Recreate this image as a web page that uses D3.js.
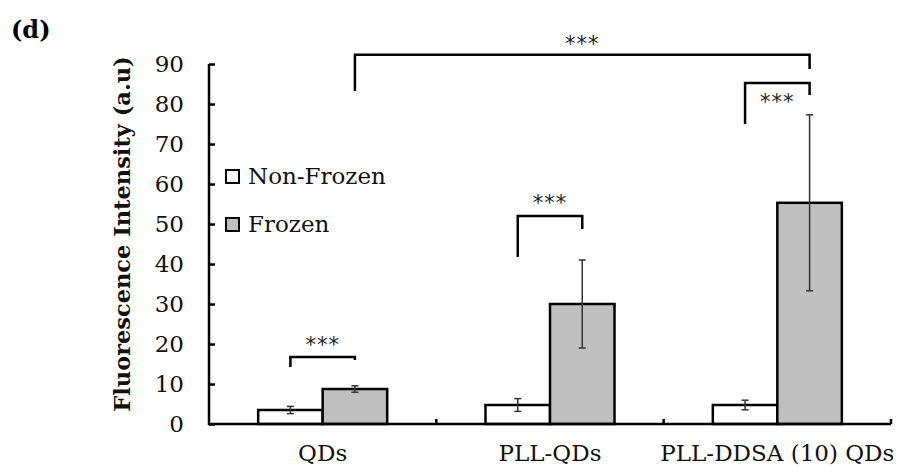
<!DOCTYPE html>
<html>
<head>
<meta charset="utf-8">
<script src="https://cdn.jsdelivr.net/npm/d3@7"></script>
<style>
  body { margin: 0; background: #fff; }
  svg { display: block; }
</style>
</head>
<body>
<svg id="chart" width="913" height="468"></svg>
<script>
const categories = ["QDs", "PLL-QDs", "PLL-DDSA (10) QDs"];
const seriesNames = ["Non-Frozen", "Frozen"];
const nonFrozen = [3.5, 4.75, 4.75];
const frozen = [8.75, 30, 55.3];
const nonFrozenErr = [0.9, 1.6, 1.2];
const frozenErr = [0.8, 11, 22];
const yTicks = [0, 10, 20, 30, 40, 50, 60, 70, 80, 90];

// significance brackets: [category, series] ends, levels in data units
const brackets = [
  {a: [0, 0], b: [0, 1], top: 16.75, legA: 14.25, legB: 16, star: 21},
  {a: [1, 0], b: [1, 1], top: 52, legA: 41.75, legB: 48.75, star: 56.5},
  {a: [2, 0], b: [2, 1], top: 85.25, legA: 75, legB: 82.25, star: 81.75},
  {a: [0, 1], b: [2, 1], top: 92.3, legA: 83.25, legB: 88.75, star: 96.25}
];

const margin = {top: 64, right: 22, bottom: 44, left: 209};
const W = 913, H = 468;
const width = W - margin.left - margin.right;
const height = H - margin.top - margin.bottom;

const svg = d3.select("#chart");
const g = svg.append("g").attr("transform", `translate(${margin.left},${margin.top})`);

const x = d3.scaleBand().domain(categories).range([0, width]).padding(0);
const xSub = d3.scaleBand().domain(seriesNames).range([0, x.bandwidth()])
    .paddingInner(0).paddingOuter(0.762);
const y = d3.scaleLinear().domain([0, 90]).range([height, 0]);

const serif = "'DejaVu Serif', serif";
const fills = {"Non-Frozen": "#ffffff", "Frozen": "#bfbfbf"};

const rows = categories.map((c, i) => ({
  cat: c,
  vals: [
    {s: "Non-Frozen", v: nonFrozen[i], e: nonFrozenErr[i]},
    {s: "Frozen", v: frozen[i], e: frozenErr[i]}
  ]
}));

// bars
const grp = g.selectAll("g.cat").data(rows).join("g")
    .attr("class", "cat")
    .attr("transform", d => `translate(${x(d.cat)},0)`);

grp.selectAll("rect").data(d => d.vals).join("rect")
    .attr("x", d => xSub(d.s))
    .attr("y", d => y(d.v))
    .attr("width", xSub.bandwidth())
    .attr("height", d => y(0) - y(d.v))
    .attr("fill", d => fills[d.s])
    .attr("stroke", "#000")
    .attr("stroke-width", 2.5);

// error bars
const eb = grp.selectAll("g.err").data(d => d.vals).join("g").attr("class", "err")
    .attr("stroke", "#333").attr("stroke-width", 1.5);
eb.append("line")
    .attr("x1", d => xSub(d.s) + xSub.bandwidth() / 2)
    .attr("x2", d => xSub(d.s) + xSub.bandwidth() / 2)
    .attr("y1", d => y(d.v + d.e)).attr("y2", d => y(d.v - d.e));
eb.selectAll("line.cap").data(d => [[d, d.v + d.e], [d, d.v - d.e]]).join("line")
    .attr("class", "cap")
    .attr("x1", d => xSub(d[0].s) + xSub.bandwidth() / 2 - 3.5)
    .attr("x2", d => xSub(d[0].s) + xSub.bandwidth() / 2 + 3.5)
    .attr("y1", d => y(d[1])).attr("y2", d => y(d[1]));

// y axis
const yAxis = g.append("g")
    .call(d3.axisLeft(y).tickValues(yTicks).tickSize(-6).tickPadding(25));
yAxis.select(".domain").attr("stroke-width", 2.5).attr("d", `M0,${height + 1}V0`);
yAxis.selectAll(".tick line").attr("stroke-width", 2.5);
yAxis.selectAll(".tick text")
    .style("font-family", serif).style("font-size", "23px").attr("fill", "#111");

// x axis
const xAxis = g.append("g").attr("transform", `translate(0,${height})`)
    .call(d3.axisBottom(x).tickSize(0).tickPadding(21));
xAxis.select(".domain").attr("stroke-width", 2.5).attr("d", `M-1,0H${width}`);
xAxis.selectAll(".tick text")
    .style("font-family", serif).style("font-size", "23px").attr("fill", "#111");
g.append("g").selectAll("line").data(categories.slice(1).map(c => x(c)).concat([width]))
    .join("line")
    .attr("x1", d => d).attr("x2", d => d)
    .attr("y1", height).attr("y2", height - 5)
    .attr("stroke", "#000").attr("stroke-width", 2.5);

// significance brackets
const cx = p => x(categories[p[0]]) + xSub(seriesNames[p[1]]) + xSub.bandwidth() / 2;
const br = g.selectAll("g.br").data(brackets).join("g").attr("class", "br");
br.append("path")
    .attr("d", d => `M${cx(d.a)},${y(d.legA)}V${y(d.top)}H${cx(d.b)}V${y(d.legB)}`)
    .attr("fill", "none").attr("stroke", "#000").attr("stroke-width", 2.5);
br.append("text")
    .attr("x", d => (cx(d.a) + cx(d.b)) / 2)
    .attr("y", d => y(d.star))
    .attr("dy", "0.55em")
    .attr("text-anchor", "middle")
    .style("font-family", "'DejaVu Sans', sans-serif")
    .style("font-size", "21px")
    .style("letter-spacing", "1px")
    .attr("fill", "#222")
    .text("***");

// legend
const leg = g.append("g").attr("transform", "translate(17,106)");
const li = leg.selectAll("g").data(seriesNames).join("g")
    .attr("transform", (d, i) => `translate(0,${i * 48})`);
li.append("rect").attr("width", 13).attr("height", 13)
    .attr("fill", d => fills[d]).attr("stroke", "#000").attr("stroke-width", 2);
li.append("text").attr("x", 22).attr("y", 14)
    .style("font-family", serif).style("font-size", "23px").attr("fill", "#111")
    .text(d => d);

// y label
svg.append("text")
    .attr("transform", `translate(130,${margin.top + height / 2 - 10}) rotate(-90)`)
    .attr("text-anchor", "middle")
    .style("font-family", serif).style("font-size", "22.5px").style("font-weight", "bold")
    .attr("fill", "#111")
    .text("Fluorescence Intensity (a.u)");

// panel tag
svg.append("text").attr("x", 11).attr("y", 38)
    .style("font-family", serif).style("font-size", "24px").style("font-weight", "bold")
    .text("(d)");
</script>
</body>
</html>
